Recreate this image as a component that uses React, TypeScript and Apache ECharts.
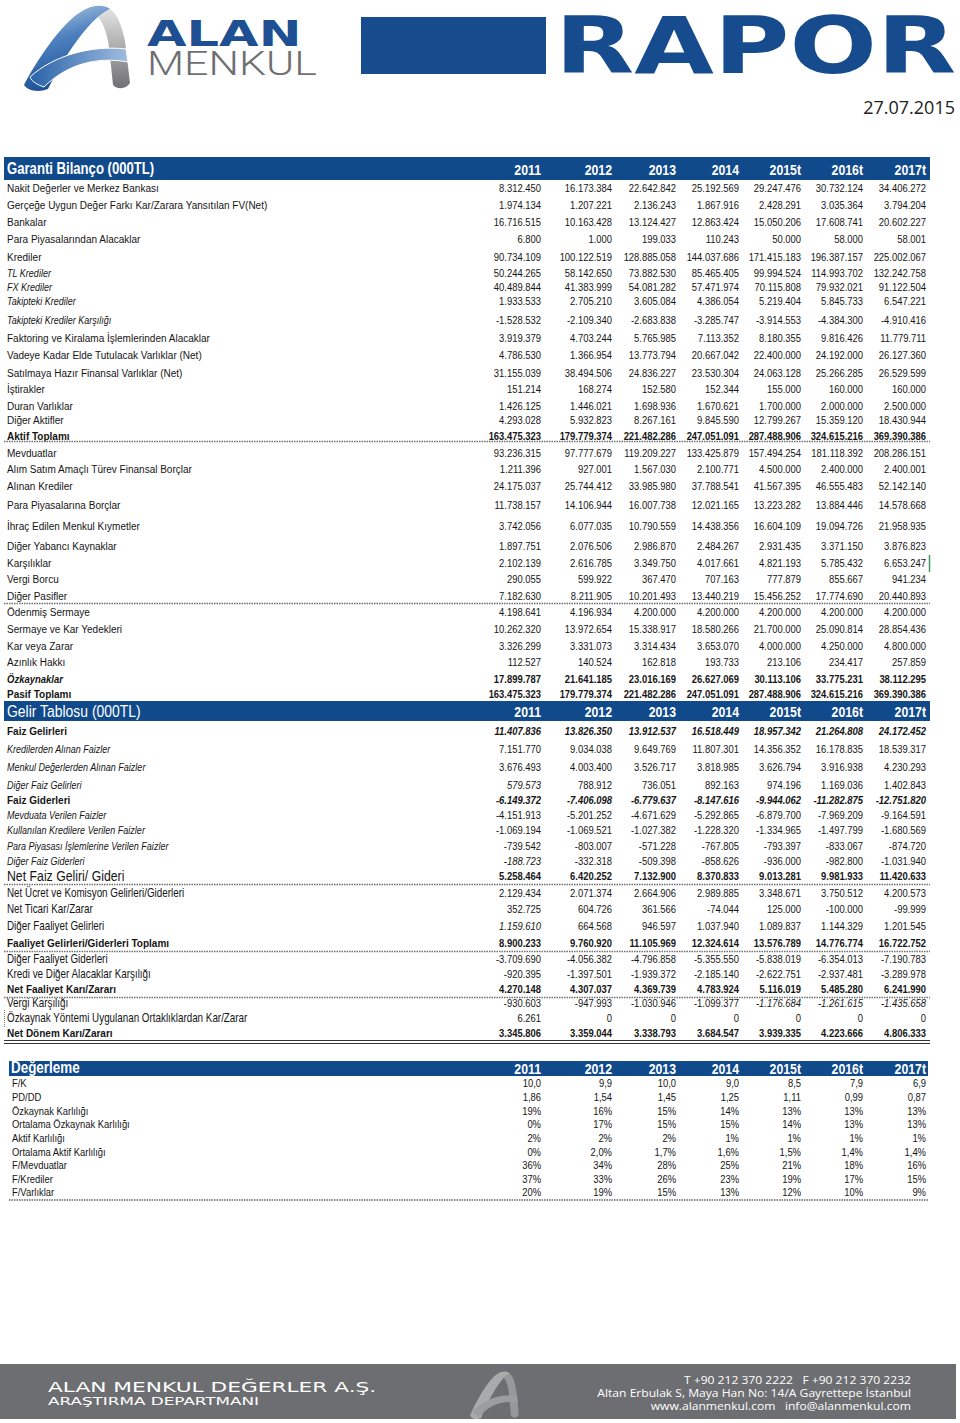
import React, { useEffect, useRef } from "react";
import * as echarts from "echarts";

// ---------------- DATA ----------------
const years = ["2011", "2012", "2013", "2014", "2015t", "2016t", "2017t"];

const bilancoTitle = "Garanti Bilanço (000TL)";
const bilancoLabels = [
  "Nakit Değerler ve Merkez Bankası",
  "Gerçeğe Uygun Değer Farkı Kar/Zarara Yansıtılan FV(Net)",
  "Bankalar",
  "Para Piyasalarından Alacaklar",
  "Krediler",
  "TL Krediler",
  "FX Krediler",
  "Takipteki Krediler",
  "Takipteki Krediler Karşılığı",
  "Faktoring ve Kiralama İşlemlerinden Alacaklar",
  "Vadeye Kadar Elde Tutulacak Varlıklar (Net)",
  "Satılmaya Hazır Finansal Varlıklar (Net)",
  "İştirakler",
  "Duran Varlıklar",
  "Diğer Aktifler",
  "Aktif Toplamı",
  "Mevduatlar",
  "Alım Satım Amaçlı Türev Finansal Borçlar",
  "Alınan Krediler",
  "Para Piyasalarına Borçlar",
  "İhraç Edilen Menkul Kıymetler",
  "Diğer Yabancı Kaynaklar",
  "Karşılıklar",
  "Vergi Borcu",
  "Diğer Pasifler",
  "Ödenmiş Sermaye",
  "Sermaye ve Kar Yedekleri",
  "Kar veya Zarar",
  "Azınlık Hakkı",
  "Özkaynaklar",
  "Pasif Toplamı",
];
const bilancoValues = [
  [8312450, 16173384, 22642842, 25192569, 29247476, 30732124, 34406272],
  [1974134, 1207221, 2136243, 1867916, 2428291, 3035364, 3794204],
  [16716515, 10163428, 13124427, 12863424, 15050206, 17608741, 20602227],
  [6800, 1000, 199033, 110243, 50000, 58000, 58001],
  [90734109, 100122519, 128885058, 144037686, 171415183, 196387157, 225002067],
  [50244265, 58142650, 73882530, 85465405, 99994524, 114993702, 132242758],
  [40489844, 41383999, 54081282, 57471974, 70115808, 79932021, 91122504],
  [1933533, 2705210, 3605084, 4386054, 5219404, 5845733, 6547221],
  [-1528532, -2109340, -2683838, -3285747, -3914553, -4384300, -4910416],
  [3919379, 4703244, 5765985, 7113352, 8180355, 9816426, 11779711],
  [4786530, 1366954, 13773794, 20667042, 22400000, 24192000, 26127360],
  [31155039, 38494506, 24836227, 23530304, 24063128, 25266285, 26529599],
  [151214, 168274, 152580, 152344, 155000, 160000, 160000],
  [1426125, 1446021, 1698936, 1670621, 1700000, 2000000, 2500000],
  [4293028, 5932823, 8267161, 9845590, 12799267, 15359120, 18430944],
  [163475323, 179779374, 221482286, 247051091, 287488906, 324615216, 369390386],
  [93236315, 97777679, 119209227, 133425879, 157494254, 181118392, 208286151],
  [1211396, 927001, 1567030, 2100771, 4500000, 2400000, 2400001],
  [24175037, 25744412, 33985980, 37788541, 41567395, 46555483, 52142140],
  [11738157, 14106944, 16007738, 12021165, 13223282, 13884446, 14578668],
  [3742056, 6077035, 10790559, 14438356, 16604109, 19094726, 21958935],
  [1897751, 2076506, 2986870, 2484267, 2931435, 3371150, 3876823],
  [2102139, 2616785, 3349750, 4017661, 4821193, 5785432, 6653247],
  [290055, 599922, 367470, 707163, 777879, 855667, 941234],
  [7182630, 8211905, 10201493, 13440219, 15456252, 17774690, 20440893],
  [4198641, 4196934, 4200000, 4200000, 4200000, 4200000, 4200000],
  [10262320, 13972654, 15338917, 18580266, 21700000, 25090814, 28854436],
  [3326299, 3331073, 3314434, 3653070, 4000000, 4250000, 4800000],
  [112527, 140524, 162818, 193733, 213106, 234417, 257859],
  [17899787, 21641185, 23016169, 26627069, 30113106, 33775231, 38112295],
  [163475323, 179779374, 221482286, 247051091, 287488906, 324615216, 369390386],
];
const bilancoLabelStyle = [
  "r", "r", "r", "r", "r", "ni", "ni", "ni", "ni", "r", "r", "r", "r", "r", "r", "b",
  "r", "r", "r", "r", "r", "r", "r", "r", "r", "r", "r", "r", "r", "bi", "b",
];
const bilancoNumStyle = [
  "r", "r", "r", "r", "r", "r", "r", "r", "r", "r", "r", "r", "r", "r", "r", "b",
  "r", "r", "r", "r", "r", "r", "r", "r", "r", "r", "r", "r", "r", "b", "b",
];

const gelirTitle = "Gelir Tablosu (000TL)";
const gelirLabels = [
  "Faiz Gelirleri",
  "Kredilerden Alınan Faizler",
  "Menkul Değerlerden Alınan Faizler",
  "Diğer Faiz Gelirleri",
  "Faiz Giderleri",
  "Mevduata Verilen Faizler",
  "Kullanılan Kredilere Verilen Faizler",
  "Para Piyasası İşlemlerine Verilen Faizler",
  "Diğer Faiz Giderleri",
  "Net Faiz Geliri/ Gideri",
  "Net Ücret ve Komisyon Gelirleri/Giderleri",
  "Net Ticari Kar/Zarar",
  "Diğer Faaliyet Gelirleri",
  "Faaliyet Gelirleri/Giderleri Toplamı",
  "Diğer Faaliyet Giderleri",
  "Kredi ve Diğer Alacaklar Karşılığı",
  "Net Faaliyet Karı/Zararı",
  "Vergi Karşılığı",
  "Özkaynak Yöntemi Uygulanan Ortaklıklardan Kar/Zarar",
  "Net Dönem Karı/Zararı",
];
const gelirValues = [
  [11407836, 13826350, 13912537, 16518449, 18957342, 21264808, 24172452],
  [7151770, 9034038, 9649769, 11807301, 14356352, 16178835, 18539317],
  [3676493, 4003400, 3526717, 3818985, 3626794, 3916938, 4230293],
  [579573, 788912, 736051, 892163, 974196, 1169036, 1402843],
  [-6149372, -7406098, -6779637, -8147616, -9944062, -11282875, -12751820],
  [-4151913, -5201252, -4671629, -5292865, -6879700, -7969209, -9164591],
  [-1069194, -1069521, -1027382, -1228320, -1334965, -1497799, -1680569],
  [-739542, -803007, -571228, -767805, -793397, -833067, -874720],
  [-188723, -332318, -509398, -858626, -936000, -982800, -1031940],
  [5258464, 6420252, 7132900, 8370833, 9013281, 9981933, 11420633],
  [2129434, 2071374, 2664906, 2989885, 3348671, 3750512, 4200573],
  [352725, 604726, 361566, -74044, 125000, -100000, -99999],
  [1159610, 664568, 946597, 1037940, 1089837, 1144329, 1201545],
  [8900233, 9760920, 11105969, 12324614, 13576789, 14776774, 16722752],
  [-3709690, -4056382, -4796858, -5355550, -5838019, -6354013, -7190783],
  [-920395, -1397501, -1939372, -2185140, -2622751, -2937481, -3289978],
  [4270148, 4307037, 4369739, 4783924, 5116019, 5485280, 6241990],
  [-930603, -947993, -1030946, -1099377, -1176684, -1261615, -1435658],
  [6261, 0, 0, 0, 0, 0, 0],
  [3345806, 3359044, 3338793, 3684547, 3939335, 4223666, 4806333],
];
const gelirLabelStyle = [
  "b", "ni", "ni", "ni", "b", "ni", "ni", "ni", "ni", "big",
  "n12", "n12", "n12", "b", "n12", "n12", "b", "n12", "n12", "b",
];
const gelirNumStyle = [
  "bi", "r", "r", "r", "bi", "r", "r", "r", "r", "b",
  "r", "r", "r", "b", "r", "r", "b", "r", "r", "b",
];
const gelirItalicCells = [[3, 0], [8, 0], [12, 0], [17, 4], [17, 5], [17, 6]];

const degerlemeTitle = "Değerleme";
const degerlemeLabels = [
  "F/K",
  "PD/DD",
  "Özkaynak Karlılığı",
  "Ortalama Özkaynak Karlılığı",
  "Aktif Karlılığı",
  "Ortalama Aktif Karlılığı",
  "F/Mevduatlar",
  "F/Krediler",
  "F/Varlıklar",
];
const degerlemeValues = [
  [10.0, 9.9, 10.0, 9.0, 8.5, 7.9, 6.9],
  [1.86, 1.54, 1.45, 1.25, 1.11, 0.99, 0.87],
  [19, 16, 15, 14, 13, 13, 13],
  [0, 17, 15, 15, 14, 13, 13],
  [2, 2, 2, 1, 1, 1, 1],
  [0, 2.0, 1.7, 1.6, 1.5, 1.4, 1.4],
  [36, 34, 28, 25, 21, 18, 16],
  [37, 33, 26, 23, 19, 17, 15],
  [20, 19, 15, 13, 12, 10, 9],
];
const degerlemeFormat = ["d1", "d2", "p0", "p0", "p0", "p1", "p0", "p0", "p0"];

const reportDate = "27.07.2015";
const footerCompany = "ALAN MENKUL DEĞERLER A.Ş.";
const footerDept = "ARAŞTIRMA DEPARTMANI";
const footerPhone = "T +90 212 370 2222   F +90 212 370 2232";
const footerAddress = "Altan Erbulak S, Maya Han No: 14/A Gayrettepe İstanbul";
const footerWeb = "www.alanmenkul.com   info@alanmenkul.com";

// ---------------- LAYOUT ----------------
const COL_RIGHT = [541, 612, 676, 739, 801, 863, 926];
const BILANCO_Y = [188, 205, 222, 239, 257, 273, 287, 301, 320, 338, 355, 373, 389, 406, 420, 436,
  453, 469, 486, 505, 526, 546, 563, 579, 596, 612, 629, 646, 662, 679, 694];
const GELIR_Y = [731, 749, 767, 785, 800, 815, 830, 846, 861, 876, 893, 909, 926, 943, 959, 974, 989, 1003, 1018, 1033];
const DEGER_Y = [1083, 1097, 1111, 1124, 1138, 1152, 1165, 1179, 1192];

const FONT = "'Liberation Sans', Arial, Helvetica, sans-serif";
const BLUE = "#114a8b";
const INK = "#151515";

const LOGO_BLUE = "M0,80 C10,60 38,16 60,5 C68,0 80,-1 86,4 C70,10 45,42 24,84 C16,87 5,87 0,80 Z";
const LOGO_GRAY = "M86,4 C94,9 98,22 101,36 L106,78 C102,84 94,85 89,80 L85,42 C83,28 79,15 70,8 C75,4 81,2 86,4 Z";
const LOGO_SWOOSH = "M6,72 C30,50 68,40 102,44 L104,57 C72,51 42,60 20,82 C14,80 8,77 6,72 Z";

echarts.graphic.registerShape("logoBlue", echarts.graphic.extendPath(LOGO_BLUE, {}));
echarts.graphic.registerShape("logoGray", echarts.graphic.extendPath(LOGO_GRAY, {}));
echarts.graphic.registerShape("logoSwoosh", echarts.graphic.extendPath(LOGO_SWOOSH, {}));

function fmtInt(v: number): string {
  const s = Math.abs(v).toString().replace(/\B(?=(\d{3})+(?!\d))/g, ".");
  return (v < 0 ? "-" : "") + s;
}
function fmtDeger(v: number, f: string): string {
  if (f === "d1") return v.toFixed(1).replace(".", ",");
  if (f === "d2") return v.toFixed(2).replace(".", ",");
  if (f === "p1") return v === 0 ? "0%" : v.toFixed(1).replace(".", ",") + "%";
  return Math.round(v) + "%";
}

type TS = { size: number; weight?: string; italic?: boolean; sx?: number };
const LABEL_STYLES: Record<string, TS> = {
  r: { size: 10 },
  ni: { size: 11, italic: true, sx: 0.82 },
  b: { size: 10, weight: "bold" },
  bi: { size: 10, weight: "bold", italic: true, sx: 0.95 },
  big: { size: 15, sx: 0.82 },
  n12: { size: 12, sx: 0.82 },
};
const NUM_STYLES: Record<string, TS> = {
  r: { size: 11.5, sx: 0.82 },
  i: { size: 11.5, italic: true, sx: 0.82 },
  b: { size: 11.5, weight: "bold", sx: 0.82 },
  bi: { size: 11.5, weight: "bold", italic: true, sx: 0.82 },
};

function txt(x: number, y: number, text: string, ts: TS, align = "left", fill = INK, family = FONT): any {
  return {
    type: "text",
    x,
    y,
    scaleX: ts.sx ?? 1,
    silent: true,
    style: {
      text,
      fill,
      fontSize: ts.size,
      fontFamily: family,
      fontWeight: ts.weight ?? "normal",
      fontStyle: ts.italic ? "italic" : "normal",
      align,
      textAlign: align,
      verticalAlign: "middle",
      textVerticalAlign: "middle",
    },
  };
}
function hline(y: number, x1: number, x2: number, stroke: string, lw: number, dash?: number[]): any {
  return {
    type: "line",
    silent: true,
    shape: { x1, y1: y, x2, y2: y },
    style: { stroke, lineWidth: lw, lineDash: dash ?? null },
  };
}

function buildElements(): any[] {
  const els: any[] = [];

  // ---- header ----
  const blueGrad = new echarts.graphic.LinearGradient(0, 0, 0.3, 1, [
    { offset: 0, color: "#c9d9ec" },
    { offset: 0.45, color: "#4f82bf" },
    { offset: 1, color: "#1b4f95" },
  ]);
  const grayGrad = new echarts.graphic.LinearGradient(0, 0, 0, 1, [
    { offset: 0, color: "#e4e4e4" },
    { offset: 1, color: "#707072" },
  ]);
  const swooshGrad = new echarts.graphic.LinearGradient(0, 0, 1, 0, [
    { offset: 0, color: "#2a62a8" },
    { offset: 1, color: "#9fbde0" },
  ]);
  els.push({ type: "logoGray", x: 24, y: 5, style: { fill: grayGrad } });
  els.push({ type: "logoBlue", x: 24, y: 5, style: { fill: blueGrad } });
  els.push({ type: "logoSwoosh", x: 24, y: 5, style: { fill: swooshGrad, stroke: "#ffffff", lineWidth: 1 } });

  els.push(txt(147, 33, "ALAN", { size: 36, weight: "bold", sx: 1.42 }, "left", "#1d4f92", "'DejaVu Sans', sans-serif"));
  els.push(txt(147, 63, "MENKUL", { size: 33, weight: "300", sx: 1.3 }, "left", "#6e6f71", "Roboto, sans-serif"));

  els.push({ type: "rect", silent: true, shape: { x: 361, y: 17, width: 185, height: 57 }, style: { fill: "#164b8e" } });
  els.push(txt(555, 46, "RAPOR", { size: 78, weight: "bold", sx: 1.32 }, "left", "#164b8e", "'DejaVu Sans', sans-serif"));

  els.push(txt(955, 107, reportDate, { size: 18 }, "right", "#222222", "'Open Sans', sans-serif"));

  // ---- Bilanço ----
  els.push({ type: "rect", silent: true, shape: { x: 4, y: 157, width: 926, height: 23 }, style: { fill: BLUE } });
  els.push(txt(7, 169, bilancoTitle, { size: 16, weight: "bold", sx: 0.82 }, "left", "#ffffff"));
  years.forEach((yr, c) => els.push(txt(COL_RIGHT[c], 170, yr, { size: 15, weight: "bold", sx: 0.82 }, "right", "#ffffff")));

  bilancoLabels.forEach((lab, r) => {
    const y = BILANCO_Y[r];
    els.push(txt(7, y, lab, LABEL_STYLES[bilancoLabelStyle[r]]));
    bilancoValues[r].forEach((v, c) => {
      els.push(txt(COL_RIGHT[c], y, fmtInt(v), NUM_STYLES[bilancoNumStyle[r]], "right"));
    });
  });
  els.push(hline(441.5, 4, 930, "#707070", 1.5, [1.5, 1]));
  els.push(hline(603.5, 4, 930, "#707070", 1.5, [1.5, 1]));
  els.push({ type: "line", silent: true, shape: { x1: 929.5, y1: 555, x2: 929.5, y2: 572 }, style: { stroke: "#3c9a62", lineWidth: 1.5 } });

  // ---- Gelir Tablosu ----
  els.push({ type: "rect", silent: true, shape: { x: 4, y: 701, width: 926, height: 20 }, style: { fill: BLUE } });
  els.push(txt(7, 711, gelirTitle, { size: 17, sx: 0.82 }, "left", "#ffffff"));
  years.forEach((yr, c) => els.push(txt(COL_RIGHT[c], 712, yr, { size: 15, weight: "bold", sx: 0.82 }, "right", "#ffffff")));

  gelirLabels.forEach((lab, r) => {
    const y = GELIR_Y[r];
    els.push(txt(7, y, lab, LABEL_STYLES[gelirLabelStyle[r]]));
    gelirValues[r].forEach((v, c) => {
      let st = gelirNumStyle[r];
      if (gelirItalicCells.some(([rr, cc]) => rr === r && cc === c)) st = "i";
      els.push(txt(COL_RIGHT[c], y, fmtInt(v), NUM_STYLES[st], "right"));
    });
  });
  els.push(hline(884.5, 4, 930, "#707070", 1.5, [1.5, 1]));
  els.push(hline(951.5, 4, 930, "#707070", 1.5, [1.5, 1]));
  els.push(hline(997.5, 4, 930, "#707070", 1.5, [1.5, 1]));
  els.push(hline(1040.5, 4, 930, "#333333", 1));
  els.push(hline(1043.5, 4, 930, "#333333", 1));
  els.push({ type: "line", silent: true, shape: { x1: 4.5, y1: 1010, x2: 4.5, y2: 1027 }, style: { stroke: "#777", lineWidth: 1, lineDash: [1, 1] } });

  // ---- Değerleme ----
  els.push({ type: "rect", silent: true, shape: { x: 9, y: 1061, width: 919, height: 15 }, style: { fill: BLUE } });
  els.push(txt(11, 1068, degerlemeTitle, { size: 16, weight: "bold", sx: 0.84 }, "left", "#ffffff"));
  years.forEach((yr, c) => els.push(txt(COL_RIGHT[c], 1069, yr, { size: 15, weight: "bold", sx: 0.82 }, "right", "#ffffff")));
  degerlemeLabels.forEach((lab, r) => {
    const y = DEGER_Y[r];
    els.push(txt(12, y, lab, { size: 11.5, sx: 0.82 }));
    degerlemeValues[r].forEach((v, c) => {
      els.push(txt(COL_RIGHT[c], y, fmtDeger(v, degerlemeFormat[r]), { size: 11.5, sx: 0.82 }, "right"));
    });
  });
  els.push(hline(1200, 9, 928, "#8a8a8a", 2, [1.5, 1]));

  // ---- footer ----
  els.push({ type: "rect", silent: true, shape: { x: 0, y: 1364, width: 956, height: 55 }, style: { fill: "#6d6e71" } });
  els.push(txt(48, 1387, footerCompany, { size: 14, sx: 1.55 }, "left", "#ffffff", "'DejaVu Sans', sans-serif"));
  els.push(txt(48, 1401, footerDept, { size: 10.5, sx: 1.6 }, "left", "#ffffff", "'DejaVu Sans', sans-serif"));
  els.push({ type: "logoGray", x: 470, y: 1371, scaleX: 0.46, scaleY: 0.56, style: { fill: "#97989a" } });
  els.push({ type: "logoBlue", x: 470, y: 1371, scaleX: 0.46, scaleY: 0.56, style: { fill: "#a9aaac" } });
  els.push({ type: "logoSwoosh", x: 470, y: 1371, scaleX: 0.46, scaleY: 0.56, style: { fill: "#9c9d9f" } });
  els.push(txt(911, 1380, footerPhone, { size: 11, sx: 1.1 }, "right", "#ffffff", "'Open Sans', sans-serif"));
  els.push(txt(911, 1393, footerAddress, { size: 11, sx: 1.1 }, "right", "#ffffff", "'Open Sans', sans-serif"));
  els.push(txt(911, 1406, footerWeb, { size: 11, sx: 1.1 }, "right", "#ffffff", "'Open Sans', sans-serif"));

  return els;
}

export default function App() {
  const ref = useRef<HTMLDivElement>(null);
  useEffect(() => {
    if (!ref.current) return;
    const chart = echarts.init(ref.current, undefined, { renderer: "svg" });
    chart.setOption({
      animation: false,
      backgroundColor: "#ffffff",
      graphic: { elements: buildElements() },
    });
    return () => chart.dispose();
  }, []);
  return (
    <div
      ref={ref}
      style={{ position: "absolute", left: 0, top: 0, width: 960, height: 1423, background: "#fff" }}
    />
  );
}
